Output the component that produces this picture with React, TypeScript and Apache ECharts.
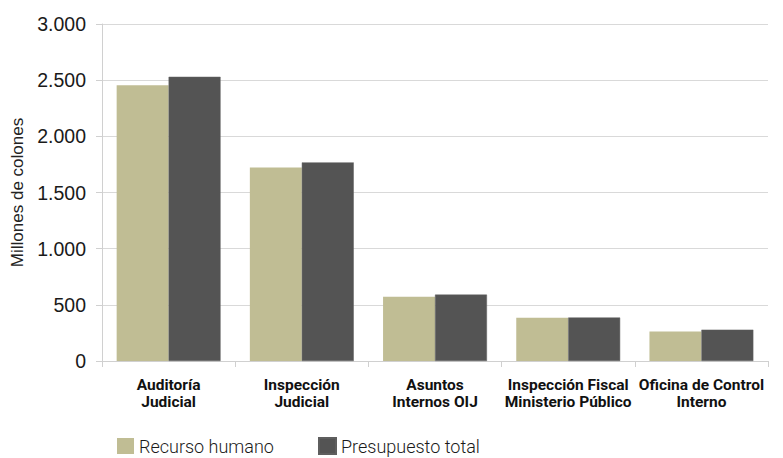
import React, { useEffect, useRef } from "react";
import * as echarts from "echarts";

const categories = [
  "Auditoría\nJudicial",
  "Inspección\nJudicial",
  "Asuntos\nInternos OIJ",
  "Inspección Fiscal\nMinisterio Público",
  "Oficina de Control\nInterno",
];
const recursoHumano = [2455, 1723, 573, 386, 262];
const presupuestoTotal = [2530, 1768, 591, 387, 279];
const yTicks = [0, 500, 1000, 1500, 2000, 2500, 3000];

const fmt = (v: number) => v.toLocaleString("de-DE");

export default function App() {
  const ref = useRef<HTMLDivElement>(null);
  useEffect(() => {
    const chart = echarts.init(ref.current!, null, { renderer: "svg" });
    const legendText = { fontFamily: "Roboto", fontWeight: 300, fontSize: 18, color: "#1a1a1a" };
    chart.setOption({
      animation: false,
      grid: { left: 102, right: 15, top: 24, bottom: 97, containLabel: false },
      legend: [
        {
          top: 437,
          left: 117,
          itemWidth: 17,
          itemHeight: 16,
          icon: "rect",
          padding: 0,
          textStyle: legendText,
          data: ["Recurso humano"],
        },
        {
          top: 437,
          left: 318,
          itemWidth: 17,
          itemHeight: 16,
          icon: "rect",
          padding: 0,
          textStyle: legendText,
          data: ["Presupuesto total"],
        },
      ],
      xAxis: {
        type: "category",
        data: categories,
        axisLine: { lineStyle: { color: "#d0d0d0" } },
        axisTick: { show: true, length: 6, lineStyle: { color: "#d0d0d0" } },
        axisLabel: {
          interval: 0,
          fontFamily: "Roboto",
          fontWeight: "bold",
          fontSize: 15.5,
          lineHeight: 17,
          color: "#111",
          margin: 15,
        },
      },
      yAxis: {
        type: "value",
        min: yTicks[0],
        max: yTicks[yTicks.length - 1],
        interval: 500,
        name: "Millones de colones",
        nameLocation: "middle",
        nameGap: 76,
        nameTextStyle: { fontFamily: "Liberation Sans", fontSize: 17, color: "#222" },
        axisLine: { show: true, lineStyle: { color: "#d0d0d0" } },
        axisTick: { show: true, length: 6, lineStyle: { color: "#d0d0d0" } },
        splitLine: { lineStyle: { color: "#d9d9d9" } },
        axisLabel: {
          formatter: (v: number) => fmt(v),
          fontFamily: "Liberation Sans",
          fontSize: 19.5,
          color: "#1a1a1a",
          margin: 16,
        },
      },
      series: [
        {
          name: "Recurso humano",
          type: "bar",
          data: recursoHumano,
          barGap: "0%",
          barCategoryGap: "22%",
          itemStyle: { color: "#c0bd94" },
        },
        {
          name: "Presupuesto total",
          type: "bar",
          data: presupuestoTotal,
          itemStyle: { color: "#545454", borderColor: "#5e5e5e", borderWidth: 0.5 },
        },
      ],
    });
    return () => chart.dispose();
  }, []);
  return <div ref={ref} style={{ width: 783, height: 458, position: "absolute", left: 0, top: 0, background: "#fff" }} />;
}
